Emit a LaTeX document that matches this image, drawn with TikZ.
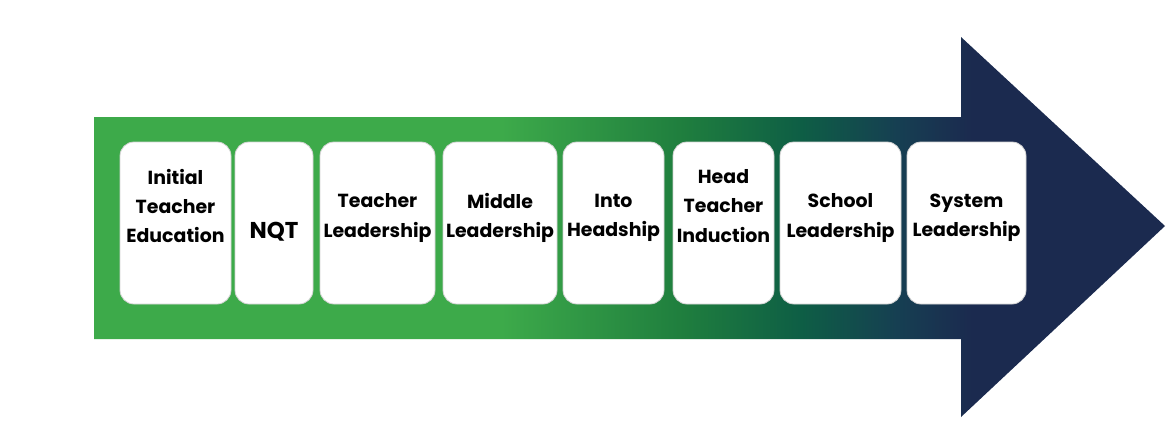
\documentclass[tikz,border=0pt]{standalone}
\usepackage{fontspec}
\setmainfont{Poppins}
\usetikzlibrary{positioning}

\definecolor{pathgreen}{HTML}{3DAA4A}
\definecolor{midgreen}{HTML}{1F7E3E}
\definecolor{deepgreen}{HTML}{0E5E45}
\definecolor{slateblue}{HTML}{163F52}
\definecolor{pathnavy}{HTML}{1B2A4F}

% left-to-right colour run of the big arrow
\pgfdeclarehorizontalshading{pathway}{100bp}{
  color(0bp)=(pathgreen);
  color(44bp)=(pathgreen);
  color(52.5bp)=(midgreen);
  color(58bp)=(deepgreen);
  color(62.5bp)=(slateblue);
  color(66bp)=(pathnavy);
  color(100bp)=(pathnavy)}

\begin{document}
\begin{tikzpicture}[x=1bp,y=-1bp,
    stage/.style={rectangle,draw=gray!35,line width=0.8bp,fill=white,
      rounded corners=14bp,minimum height=162bp,inner sep=0pt,outer sep=0pt},
    stagetext/.style={font=\bfseries\fontsize{19}{29.5}\selectfont,
      align=center,text=black,inner sep=0pt}
  ]
  \useasboundingbox (0,0) rectangle (1173,422);

  % arrow
  \shade[shading=pathway] (94,117) -- (961,117) -- (961,37) -- (1165,226)
    -- (961,417) -- (961,339) -- (94,339) -- cycle;

  % stages
  \node[stage,minimum width=111bp] (ite) at (175.5,223) {};
  \node[stage,minimum width=78bp,right=4bp of ite] (nqt) {};
  \node[stage,minimum width=115bp,right=7bp of nqt] (tl) {};
  \node[stage,minimum width=114bp,right=8bp of tl] (ml) {};
  \node[stage,minimum width=101bp,right=6bp of ml] (ih) {};
  \node[stage,minimum width=101bp,right=9bp of ih] (hti) {};
  \node[stage,minimum width=121bp,right=6bp of hti] (sl) {};
  \node[stage,minimum width=119bp,right=6bp of sl] (syl) {};

  \node[stagetext] (iteText) at ([yshift=17bp]ite.center) {Initial\\Teacher\\Education};
  \node[stagetext,font=\bfseries\fontsize{23}{29.5}\selectfont] (nqtText) at ([yshift=-9bp]nqt.center) {NQT};
  \node[stagetext] (tlText) at ([yshift=5bp]tl.center) {Teacher\\Leadership};
  \node[stagetext] (mlText) at ([yshift=5bp]ml.center) {Middle\\Leadership};
  \node[stagetext] (ihText) at ([yshift=5bp]ih.center) {Into\\Headship};
  \node[stagetext] (htiText) at ([yshift=17bp]hti.center) {Head\\Teacher\\Induction};
  \node[stagetext] (slText) at ([yshift=5bp]sl.center) {School\\Leadership};
  \node[stagetext] (sylText) at ([yshift=5bp]syl.center) {System\\Leadership};
\end{tikzpicture}
\end{document}
